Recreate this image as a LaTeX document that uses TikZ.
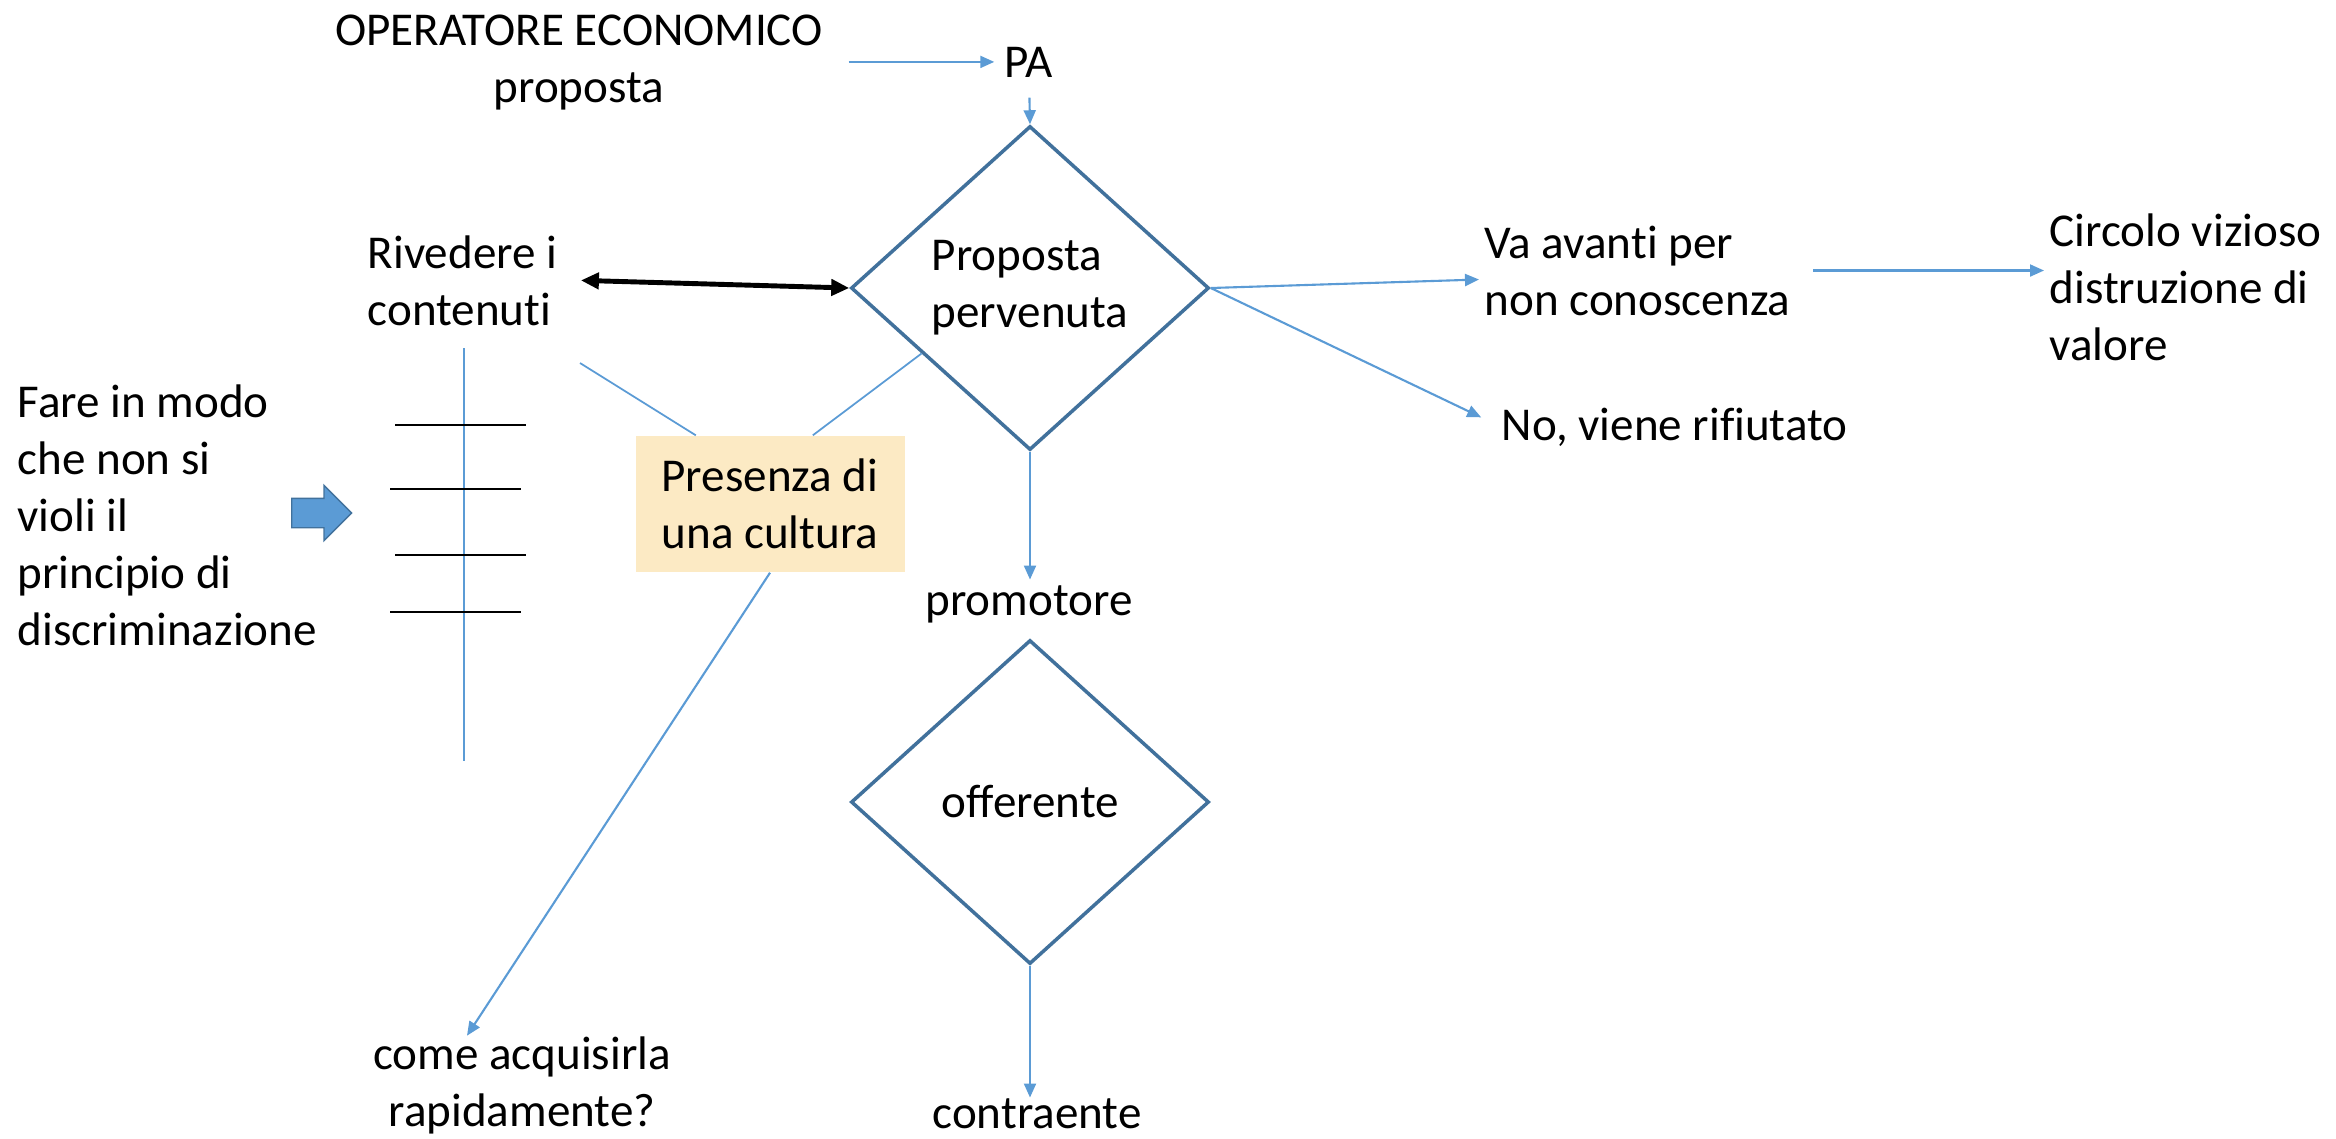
\documentclass[tikz,border=0pt]{standalone}
\usepackage{fontspec}
\setmainfont{Carlito}[Ligatures=NoCommon]
\usetikzlibrary{arrows.meta,shapes.geometric,shapes.arrows,calc}

\definecolor{lineblue}{HTML}{5B9BD5}
\definecolor{shapeblue}{HTML}{41719C}
\definecolor{notefill}{HTML}{FCEAC4}

\begin{document}
\begin{tikzpicture}[x=0.1mm,y=-0.1mm,
	txt/.style={inner sep=0pt, font=\fontsize{13.4}{16.2}\selectfont},
	choice/.style={txt, diamond, draw=shapeblue, line width=1pt, minimum width=35.8mm, minimum height=32.4mm, align=left},
	link/.style={draw=lineblue, line width=0.6pt, -{Triangle[length=1.4mm,width=1.2mm]}},
	plain/.style={draw=lineblue, line width=0.5pt}]%, show background rectangle]
	\useasboundingbox (0,0) rectangle (2336,1138);

	\node[txt, anchor=base, align=center] (op) at (579,102) {OPERATORE ECONOMICO\\proposta};
	\node[txt, anchor=base] (pa) at (1029,77) {PA};

	\node[choice] (d1) at (1030,288) {Proposta\\pervenuta};
	\node[txt, anchor=base] (prom) at (1029,615) {promotore};
	\node[choice] (d2) at (1030,802) {offerente};
	\node[txt, anchor=base] (contr) at (1037,1128) {contraente};

	\node[txt, anchor=base west, align=left] (riv) at (367,325) {Rivedere i\\contenuti};
	\node[txt, anchor=base west, align=left] (va) at (1484,315) {Va avanti per\\non conoscenza};
	\node[txt, anchor=base west, align=left] (circ) at (2049,360) {Circolo vizioso\\distruzione di\\valore};
	\node[txt, anchor=base west] (no) at (1501,440) {No, viene rifiutato};
	\node[txt, anchor=base west, align=left] (fare) at (17,645) {Fare in modo\\che non si\\violi il\\principio di\\discriminazione};
	\node[txt, anchor=base, align=center] (come) at (522,1126) {come acquisirla\\rapidamente?};

	\node[txt, fill=notefill, minimum width=26.9mm, minimum height=13.6mm, align=left] (cult) at (770,504) {Presenza di\\una cultura};
	\node[single arrow, fill=lineblue, draw=shapeblue, line width=0.4pt, inner xsep=0pt, inner ysep=1.4mm,
		minimum height=6mm, minimum width=5.4mm, single arrow head extend=1.3mm, anchor=tail] (push) at (291,513) {};

	\coordinate (c1) at (580,363);

	\draw[link] ($(op.east |- pa.west)+(25,0)$) -- ([xshift=-1mm]pa.west);
	\draw[link, shorten <=2mm] (pa.south) -- (d1.north);
	\draw[{Triangle[length=1.8mm,width=1.6mm]}-{Triangle[length=1.8mm,width=1.6mm]}, line width=1.4pt] ([xshift=2.3mm]riv.east) -- (d1.west);
	\draw[link] (d1.east) -- ([shift={(-5,9)}]va.west);
	\draw[link, shorten <=2.2mm, shorten >=0.5mm] (va.east) -- (va.east -| circ.west);
	\draw[link, shorten >=2.2mm] (d1.east) -- (no.west);
	\draw[link, shorten >=0.5mm] (d1.south) -- (d1.south |- prom.north);
	\draw[link] (d2.south) -- (d2.south |- contr.north);

	\draw[plain] (c1) -- ([xshift=6.1mm]cult.north west);
	\draw[plain] ($(d1.west)!0.4!(d1.south)$) -- ([xshift=17.8mm]cult.north west);
	\draw[link] (cult.south) -- ([xshift=-5.5mm]come.north);

	\draw[plain] (464,348) -- (464,761);
	\foreach \y/\a in {425/395, 489/390, 555/395, 612/390}
		\draw[line width=0.6pt] (\a,\y) -- ++(131,0);
\end{tikzpicture}
\end{document}
